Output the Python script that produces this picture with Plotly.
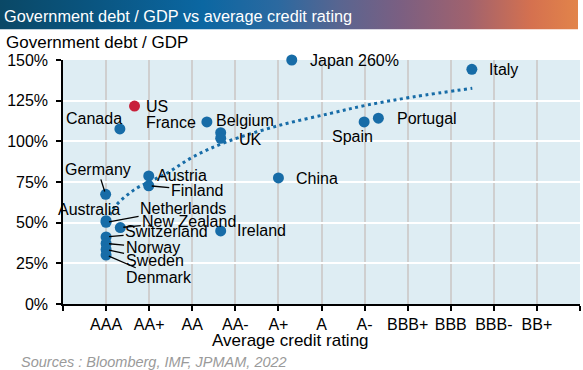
import base64
import plotly.graph_objects as go

# ---------------- data ----------------
rating_labels = ["AAA", "AA+", "AA", "AA-", "A+", "A", "A-", "BBB+", "BBB", "BBB-", "BB+"]

countries = ["US", "Canada", "France", "Belgium", "UK", "Austria", "Finland", "China",
             "Japan 260%", "Italy", "Portugal", "Spain", "Ireland", "Germany", "Australia",
             "Netherlands", "New Zealand", "Switzerland", "Norway", "Sweden", "Denmark"]
avg_rating = [1.66, 1.32, 3.34, 3.66, 3.66, 1.99, 1.99, 5.00,
              5.31, 9.49, 7.32, 6.99, 3.66, 0.99, 1.00,
              1.00, 1.33, 1.00, 1.00, 1.00, 1.00]
debt_gdp = [121.7, 107.6, 111.9, 105.3, 101.9, 78.7, 72.7, 77.5,
            150.0, 144.3, 114.2, 111.9, 44.9, 67.4, 51.2,
            50.2, 47.0, 41.2, 37.2, 33.5, 30.1]

trend_x = [1.09, 1.17, 1.64, 2.41, 3.03, 3.81, 5.05, 6.21, 7.06, 8.15, 9.5]
trend_y = [54.7, 58.8, 70.0, 80.4, 90.6, 99.8, 110.0, 117.2, 122.3, 127.4, 132.6]

y_ticks = [0, 25, 50, 75, 100, 125, 150]

# ---------------- styles ----------------
BLUE = "#176ca7"
RED = "#c8203a"
FONT = "Liberation Sans, Arial, sans-serif"

# label placement: (kind, dx, dy) in screen pixels relative to the dot
label_pos = {
    "US": ("left", 9, 0.5),
    "Canada": ("center", -26, -10.7),
    "France": ("right", -9, 0.3),
    "Belgium": ("left", -7, -12.7),
    "UK": ("left", 16, 1),
    "Austria": ("left", 6, 0),
    "Finland": ("arrow", 48, 4.3),
    "China": ("left", 15.5, 0.3),
    "Japan 260%": ("left", 16.5, 0.7),
    "Italy": ("left", 15.5, 0.7),
    "Portugal": ("left", 16.5, 0.7),
    "Spain": ("center", -11.3, 14.7),
    "Ireland": ("left", 14.5, 0),
    "Germany": ("arrow", -8, -25),
    "Australia": ("center", -17, -11.7),
    "Netherlands": ("arrow", 77, -14),
    "New Zealand": ("arrow", 69, -6.5),
    "Switzerland": ("arrow", 60.5, -5.3),
    "Norway": ("arrow", 46.5, 4.2),
    "Sweden": ("arrow", 48.5, 10.5),
    "Denmark": ("arrow", 53, 22.7),
}

colors = [RED if c == "US" else BLUE for c in countries]

fig = go.Figure()

fig.add_trace(go.Scatter(
    x=trend_x, y=trend_y, mode="lines",
    line=dict(color=BLUE, width=3, dash="3px,3.5px", shape="spline"),
    hoverinfo="skip",
))

fig.add_trace(go.Scatter(
    x=avg_rating, y=debt_gdp, mode="markers",
    marker=dict(size=11, color=colors, line=dict(width=0)),
    text=countries, cliponaxis=False,
))

annotations = []
for c, xv, yv in zip(countries, avg_rating, debt_gdp):
    kind, dx, dy = label_pos[c]
    if kind == "arrow":
        annotations.append(dict(
            x=xv, y=yv, xref="x", yref="y", text=c, showarrow=True,
            arrowhead=0, arrowwidth=1.3, arrowcolor="black",
            ax=dx, ay=dy, standoff=3,
            font=dict(family=FONT, size=16, color="black"),
        ))
    else:
        annotations.append(dict(
            x=xv, y=yv, xref="x", yref="y", text=c, showarrow=False,
            xanchor=kind, yanchor="middle", xshift=dx, yshift=-dy,
            font=dict(family=FONT, size=16, color="black"),
        ))

PLOT_L, PLOT_R, PLOT_T, PLOT_B = 63, 580, 60, 304
PW = PLOT_R - PLOT_L
PH = PLOT_B - PLOT_T


def px_x(px):
    return (px - PLOT_L) / PW


def px_y(py):
    return (PLOT_B - py) / PH


# subtitle
annotations.append(dict(
    x=px_x(4), y=px_y(43), xref="paper", yref="paper", text="Government debt / GDP",
    showarrow=False, xanchor="left", yanchor="middle",
    font=dict(family=FONT, size=17, color="black"),
))
# banner title
annotations.append(dict(
    x=px_x(2), y=px_y(15.5), xref="paper", yref="paper",
    text="Government debt / GDP vs average credit rating",
    showarrow=False, xanchor="left", yanchor="middle",
    font=dict(family="Liberation Sans Narrow, Liberation Sans, Arial", size=16.3, color="white"),
))
# x axis title
annotations.append(dict(
    x=px_x(290), y=px_y(340), xref="paper", yref="paper", text="Average credit rating",
    showarrow=False, xanchor="center", yanchor="middle",
    font=dict(family=FONT, size=17, color="black"),
))
# source
annotations.append(dict(
    x=px_x(19), y=px_y(362), xref="paper", yref="paper",
    text="<i>Sources : Bloomberg, IMF, JPMAM, 2022</i>",
    showarrow=False, xanchor="left", yanchor="middle",
    font=dict(family=FONT, size=14.5, color="#9a9a9a"),
))

# gradient banner as svg image
svg = (
    '<svg xmlns="http://www.w3.org/2000/svg" width="578" height="30" preserveAspectRatio="none">'
    '<defs><linearGradient id="g" x1="0" y1="0" x2="1" y2="0">'
    '<stop offset="0" stop-color="#0a4866"/>'
    '<stop offset="0.17" stop-color="#0a5682"/>'
    '<stop offset="0.35" stop-color="#0b67a2"/>'
    '<stop offset="0.48" stop-color="#2b69a0"/>'
    '<stop offset="0.59" stop-color="#5a6590"/>'
    '<stop offset="0.69" stop-color="#7a5f82"/>'
    '<stop offset="0.81" stop-color="#a0626e"/>'
    '<stop offset="0.92" stop-color="#d5714f"/>'
    '<stop offset="1" stop-color="#e2844a"/>'
    '</linearGradient></defs>'
    '<rect x="0" y="0" width="578" height="30" fill="url(#g)"/></svg>'
)
svg_uri = "data:image/svg+xml;base64," + base64.b64encode(svg.encode()).decode()

fig.update_layout(
    width=583, height=370,
    margin=dict(l=PLOT_L, r=583 - PLOT_R, t=PLOT_T, b=370 - PLOT_B, pad=0),
    paper_bgcolor="white", plot_bgcolor="#deedf3",
    showlegend=False,
    font=dict(family=FONT, size=16, color="black"),
    annotations=annotations,
    images=[dict(
        source=svg_uri, xref="paper", yref="paper",
        x=px_x(0), y=px_y(0), sizex=578 / PW, sizey=29.5 / PH,
        xanchor="left", yanchor="top", sizing="stretch", layer="below",
    )],
    xaxis=dict(
        range=[0, 12], tickmode="array", tickvals=list(range(13)),
        ticktext=[""] + rating_labels + [""],
        showgrid=True, gridcolor="#cfcfcf", gridwidth=2,
        showline=True, linecolor="black", linewidth=1.5,
        ticks="outside", ticklen=5, tickcolor="black", tickwidth=1.5,
        zeroline=False, ticklabelstandoff=0,
        tickfont=dict(family=FONT, size=16, color="black"),
    ),
    yaxis=dict(
        range=[0, 150], tickmode="array", tickvals=y_ticks,
        ticktext=[f"{v}%" for v in y_ticks],
        showgrid=True, gridcolor="white", gridwidth=2,
        showline=True, linecolor="black", linewidth=1.5,
        ticks="outside", ticklen=5, tickcolor="black", tickwidth=1.5,
        zeroline=False, ticklabelstandoff=5,
        tickfont=dict(family=FONT, size=16, color="black"),
    ),
)

fig.write_html(
    "out.html",
    config={"displayModeBar": False},
    post_script="document.body.style.margin='0';document.body.style.padding='0';",
)
